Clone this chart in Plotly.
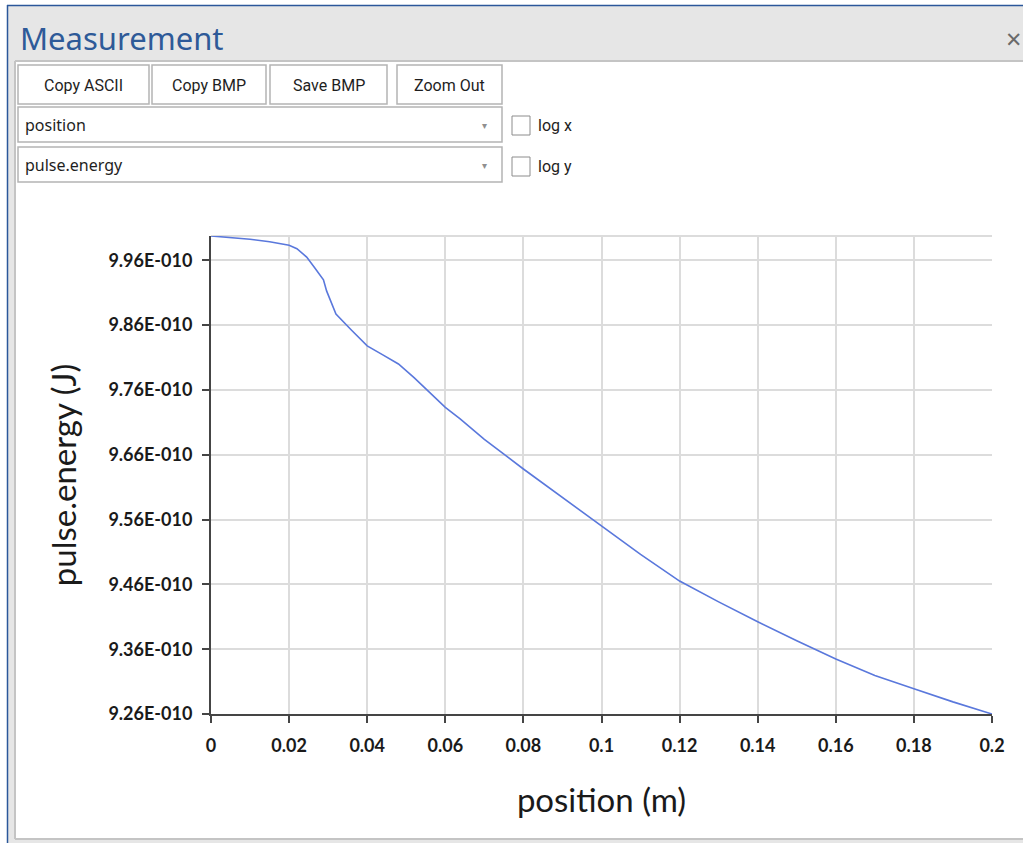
import plotly.graph_objects as go

# ---- data ----
position_m = [0.0, 0.005, 0.01, 0.015, 0.02, 0.022, 0.0245, 0.0265, 0.0288, 0.0296,
              0.032, 0.036, 0.040, 0.044, 0.048, 0.052, 0.0561, 0.06, 0.0638, 0.07,
              0.08, 0.09, 0.10, 0.11, 0.12, 0.13, 0.14, 0.15, 0.16, 0.17, 0.18, 0.19, 0.20]
pulse_energy_1e10 = [9.9975, 9.9955, 9.9925, 9.9885, 9.9831, 9.978, 9.965, 9.949, 9.930, 9.9128,
                     9.877, 9.852, 9.828, 9.814, 9.800, 9.779, 9.7563, 9.7332, 9.7154, 9.6836,
                     9.638, 9.5943, 9.5508, 9.5062, 9.4651, 9.433, 9.4024, 9.3729, 9.3448, 9.3194,
                     9.2991, 9.2787, 9.26]
pulse_energy_J = [v * 1e-10 for v in pulse_energy_1e10]

x_tick_vals = [0, 0.02, 0.04, 0.06, 0.08, 0.1, 0.12, 0.14, 0.16, 0.18, 0.2]
x_tick_text = ["0", "0.02", "0.04", "0.06", "0.08", "0.1", "0.12", "0.14", "0.16", "0.18", "0.2"]
y_tick_vals = [9.26e-10, 9.36e-10, 9.46e-10, 9.56e-10, 9.66e-10, 9.76e-10, 9.86e-10, 9.96e-10]
y_tick_text = ["9.26E-010", "9.36E-010", "9.46E-010", "9.56E-010",
               "9.66E-010", "9.76E-010", "9.86E-010", "9.96E-010"]

window_title = "Measurement"
button_labels = ["Copy ASCII", "Copy BMP", "Save BMP", "Zoom Out"]
dropdown_labels = ["position", "pulse.energy"]
checkbox_labels = ["log x", "log y"]
x_title = "position (m)"
y_title = "pulse.energy (J)"

# ---- layout geometry (pixels) ----
W, H = 1023, 843
PL, PR, PT, PB = 211, 992, 236, 714


def px(x):
    return (x - PL) / (PR - PL)


def py(y):
    return (PB - y) / (PB - PT)


fig = go.Figure()
fig.add_trace(go.Scatter(x=position_m, y=pulse_energy_J, mode="lines",
                         line=dict(color="#5a78dc", width=1.6), showlegend=False,
                         hoverinfo="x+y"))

shapes = []
annotations = []


def rect(x0, y0, x1, y1, fill, line_color=None, lw=0, layer="below"):
    shapes.append(dict(type="rect", xref="paper", yref="paper",
                       x0=px(x0), x1=px(x1), y0=py(y1), y1=py(y0),
                       fillcolor=fill,
                       line=dict(color=line_color or fill, width=lw),
                       layer=layer))


def hline(x0, x1, y, color, lw, layer="below"):
    shapes.append(dict(type="line", xref="paper", yref="paper",
                       x0=px(x0), x1=px(x1), y0=py(y), y1=py(y),
                       line=dict(color=color, width=lw), layer=layer))


def vline(x, y0, y1, color, lw, layer="below"):
    shapes.append(dict(type="line", xref="paper", yref="paper",
                       x0=px(x), x1=px(x), y0=py(y0), y1=py(y1),
                       line=dict(color=color, width=lw), layer=layer))


def text(x, y, s, size, color, family, xanchor="left", weight=None):
    f = dict(size=size, color=color, family=family)
    if weight:
        f["weight"] = weight
    annotations.append(dict(xref="paper", yref="paper", x=px(x), y=py(y), text=s,
                            showarrow=False, xanchor=xanchor, yanchor="middle",
                            font=f))


# window chrome
rect(8, 5, W + 2, 61, "#e6e6e6")
rect(8, 61, 16, H + 2, "#e6e6e6")
rect(16, 838, W + 2, H + 2, "#e6e6e6")
hline(7, W + 2, 5.5, "#2b579a", 1.5)
vline(7.5, 5, H + 2, "#2b579a", 1.5)
hline(15, W + 2, 61, "#c4c4c4", 2)
vline(15, 61, 839, "#c4c4c4", 2)
hline(15, W + 2, 839, "#c4c4c4", 2)
text(18, 38, window_title, 31, "#2e5a98", "Noto Sans")
text(1013, 38, "×", 27, "#6a6a6a", "Noto Sans", xanchor="center")

# buttons
btn_boxes = [(18, 149), (152, 266), (270, 387), (397, 502)]
for (x0, x1), lab in zip(btn_boxes, button_labels):
    rect(x0, 65, x1, 104, "#ffffff", "#b4b4b4", 1.5)
    text((x0 + x1) / 2, 85, lab, 16, "#1e1e1e", "Liberation Sans Narrow, Roboto, Lato",
         xanchor="center")

# dropdowns
for i, lab in enumerate(dropdown_labels):
    y0 = 107 + i * 40
    rect(18, y0, 502, y0 + 35, "#ffffff", "#b4b4b4", 1.5)
    text(23, y0 + 18, lab, 16, "#1e1e1e", "Noto Sans, Open Sans")
    text(484, y0 + 18, "▾", 10, "#909090", "DejaVu Sans", xanchor="center")

# checkboxes
for i, lab in enumerate(checkbox_labels):
    yc = 125 + i * 41
    rect(512, yc - 9, 530, yc + 10, "#ffffff", "#8c8c8c", 1)
    text(536, yc, lab, 16, "#1e1e1e", "Liberation Sans Narrow, Roboto, Lato")

# top border of plot area (light)
hline(PL, PR, PT, "#dcdcdc", 2)

tick_font = dict(size=18, color="#1a1a1a", family="Lato", weight="bold")
title_font = dict(size=33, color="#1a1a1a", family="Lato")

fig.update_layout(
    width=W, height=H,
    margin=dict(l=PL, r=W - PR, t=PT, b=H - PB, pad=0),
    paper_bgcolor="#ffffff", plot_bgcolor="#ffffff",
    shapes=shapes, annotations=annotations,
    showlegend=False,
    xaxis=dict(range=[0, 0.2], tickmode="array", tickvals=x_tick_vals, ticktext=x_tick_text,
               showgrid=True, gridcolor="#dcdcdc", gridwidth=2, zeroline=False,
               showline=True, linecolor="#454545", linewidth=2,
               ticks="outside", ticklen=7, tickwidth=2, tickcolor="#454545",
               ticklabelstandoff=7,
               tickfont=tick_font,
               title=dict(text=x_title, standoff=34, font=title_font)),
    yaxis=dict(range=[9.26e-10, 9.9975e-10], tickmode="array", tickvals=y_tick_vals,
               ticktext=y_tick_text,
               showgrid=True, gridcolor="#dcdcdc", gridwidth=2, zeroline=False,
               showline=True, linecolor="#454545", linewidth=2,
               ticks="outside", ticklen=7, tickwidth=2, tickcolor="#454545",
               ticklabelstandoff=6,
               tickfont=tick_font,
               title=dict(text=y_title, standoff=22, font=title_font)),
)

fig.write_html("out.html")
